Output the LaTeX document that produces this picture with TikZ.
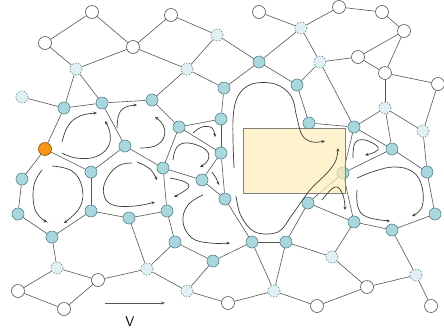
\documentclass[tikz,border=0pt]{standalone}
\usetikzlibrary{arrows.meta}
\definecolor{tealf}{RGB}{168,215,221}
\definecolor{tealb}{RGB}{90,130,140}
\definecolor{dashf}{RGB}{225,240,242}
\definecolor{edgec}{RGB}{85,85,85}
\definecolor{orangef}{RGB}{245,150,25}
\definecolor{rectf}{RGB}{255,238,185}
\definecolor{flowc}{RGB}{60,60,60}
\begin{document}
\begin{tikzpicture}[x=1pt,y=-1pt,
  tn/.style={circle,minimum size=12pt,inner sep=0pt,fill=tealf,draw=tealb,line width=0.6pt},
  wn/.style={circle,minimum size=13pt,inner sep=0pt,fill=white,draw=edgec,line width=0.6pt},
  dn/.style={circle,minimum size=12pt,inner sep=0pt,fill=dashf,draw=tealb,dashed,dash pattern=on 1.5pt off 1.5pt,line width=0.6pt},
  on/.style={circle,minimum size=13pt,inner sep=0pt,fill=orangef,draw=orange!60!black,line width=0.6pt},
  ed/.style={draw=edgec,line width=0.6pt},
  flow/.style={draw=flowc,line width=0.7pt,-{Stealth[length=3.5pt,width=3pt]}},
  rectbox/.style={draw=gray,line width=0.6pt,fill=rectf,fill opacity=0.7,minimum width=102pt,minimum height=65pt,inner sep=0pt}]
\useasboundingbox (0,0) rectangle (444,333);
% white nodes
\node[wn] (w1) at (92,12) {};
\node[wn] (w2) at (45,43) {};
\node[wn] (w3) at (133,47) {};
\node[wn] (w4) at (171,15) {};
\node[wn] (w5) at (259,12) {};
\node[wn] (w6) at (339,7) {};
\node[wn] (w7) at (382,12) {};
\node[wn] (w8) at (404,31) {};
\node[wn] (w9) at (358,57) {};
\node[wn] (w10) at (385,73) {};
\node[wn] (w11) at (438,84) {};
\node[wn] (w12) at (98,280) {};
\node[wn] (w13) at (18,291) {};
\node[wn] (w14) at (64,309) {};
\node[wn] (w15) at (228,303) {};
\node[wn] (w16) at (367,287) {};
\node[wn] (w17) at (317,306) {};
\node[wn] (w18) at (431,306) {};
% dashed nodes
\node[dn] (d1) at (76,69) {};
\node[dn] (d2) at (22,97) {};
\node[dn] (d3) at (217,35) {};
\node[dn] (d4) at (187,69) {};
\node[dn] (d5) at (301,28) {};
\node[dn] (d6) at (320,62) {};
\node[dn] (d7) at (385,108) {};
\node[dn] (d8) at (423,131) {};
\node[dn] (d9) at (57,268) {};
\node[dn] (d10) at (147,269) {};
\node[dn] (d11) at (187,291) {};
\node[dn] (d12) at (274,291) {};
\node[dn] (d13) at (332,257) {};
\node[dn] (d14) at (416,275) {};
% teal nodes
\node[tn] (t1) at (64,108) {};
\node[tn] (t2) at (102,103) {};
\node[tn] (t3) at (152,100) {};
\node[tn] (t4) at (224,88) {};
\node[tn] (t5) at (259,62) {};
\node[tn] (t6) at (297,85) {};
\node[tn] (t7) at (221,119) {};
\node[tn] (t8) at (179,127) {};
\node[tn] (t9) at (125,146) {};
\node[tn] (t10) at (221,153) {};
\node[tn] (t11) at (91,172) {};
\node[tn] (t12) at (163,168) {};
\node[tn] (t13) at (202,180) {};
\node[tn] (t14) at (22,179) {};
\node[tn] (t15) at (225,199) {};
\node[tn] (t16) at (18,214) {};
\node[tn] (t17) at (91,211) {};
\node[tn] (t18) at (167,211) {};
\node[tn] (t19) at (129,218) {};
\node[tn] (t20) at (52,237) {};
\node[tn] (t21) at (175,242) {};
\node[tn] (t22) at (213,261) {};
\node[tn] (t23) at (252,242) {};
\node[tn] (t24) at (286,242) {};
\node[tn] (t25) at (309,123) {};
\node[tn] (t26) at (354,127) {};
\node[tn] (t27) at (392,149) {};
\node[tn] (t28) at (343,173) {};
\node[tn] (t29) at (427,172) {};
\node[tn] (t30) at (308,203) {};
\node[tn] (t31) at (435,214) {};
\node[tn] (t32) at (354,222) {};
\node[tn] (t33) at (392,230) {};
\node[on] (o1) at (45,149) {};
% edges
\foreach \a/\b in {w1/w2,w1/w3,w2/d1,w3/d1,w3/w4,w3/d4,w4/d3,d3/d4,d3/t5,w5/d5,t5/d5,w6/d5,w6/w7,w7/w8,d5/d6,d6/w9,w9/w8,w9/w10,w8/w10,w10/w11,w10/d7,d6/t6,t5/t6,t5/t4,d4/t4,d4/t3,d1/t1,d1/t2,d2/t1,t1/t2,t2/t3,t1/o1,t2/t9,t3/t8,t4/t7,t7/t8,t8/t10,t8/t12,t7/t10,t10/t13,t10/t15,t12/t13,t13/t15,t12/t18,t12/t9,t9/t11,o1/t11,o1/t14,t14/t16,t16/t20,t20/t17,t11/t17,t17/t19,t19/t18,t19/d10,t20/d9,d9/w13,w13/w14,w14/w12,w12/d9,w12/d10,d10/d11,d10/t21,t21/t18,t21/t22,t22/d11,d11/w15,w15/d12,d12/t23,d12/t24,d12/w17,t22/t23,t23/t24,t23/t15,t24/t30,t24/d13,d13/t32,d13/w16,w16/w17,w16/d14,d14/w18,d14/t33,t32/t33,t33/t31,t31/t29,t29/d8,d8/w11,d8/d7,t27/d7,t27/t28,t27/t29,d7/t26,t26/d6,t26/t25,t25/t6,t28/t30,t28/t26,t28/t32,t30/t32,t26/t27}
  \draw[ed] (\a) -- (\b);
% rectangle
\node[rectbox] (r) at (294,160.5) {};
% flow arrows
\draw[flow] plot[smooth,tension=0.7] coordinates {(62,142) (68,126) (80,116) (97,113)};
\draw[flow] plot[smooth,tension=0.7] coordinates {(62,153) (76,158) (95,157) (108,147) (110,133) (105,121)};
\draw[flow] plot[smooth,tension=0.7] coordinates {(117,128) (119,114) (126,107) (137,105)};
\draw[flow] plot[smooth,tension=0.7] coordinates {(140,148) (155,146) (164,137) (163,125) (155,117)};
\draw[flow] plot[smooth,tension=0.7] coordinates {(42,170) (34,185) (34,206) (40,217) (47,222)};
\draw[flow] plot[smooth,tension=0.7] coordinates {(52,166) (72,171) (82,187) (80,207) (64,223)};
\draw[flow] plot[smooth,tension=0.7] coordinates {(137,162) (150,169) (157,180)};
\draw[flow] plot[smooth,tension=0.7] coordinates {(132,163) (118,166) (106,180) (104,195) (113,205) (135,206) (155,202)};
\draw[flow] plot[smooth,tension=0.7] coordinates {(193,133) (202,127) (212,128) (215,137)};
\draw[flow] plot[smooth,tension=0.7] coordinates {(173,160) (177,147) (189,143) (206,150) (208,160) (200,167)};
\draw[flow] plot[smooth,tension=0.7] coordinates {(212,172) (216,178) (219,185)};
\draw[flow] plot[smooth,tension=0.7] coordinates {(170,178) (185,182) (188,188) (174,197)};
\draw[flow] plot[smooth,tension=0.7] coordinates {(203,195) (188,205) (183,222) (192,238) (210,243) (230,243)};
\draw[flow] plot[smooth,tension=0.6] coordinates {(234,168) (233,120) (238,96) (252,84) (275,84) (291,96) (297,118) (302,135) (312,142) (325,141)};
\draw[flow] plot[smooth,tension=0.6] coordinates {(236,196) (241,216) (255,232) (278,232) (292,215) (310,190) (328,172) (336,160) (338,148)};
\draw[flow] plot[smooth,tension=0.7] coordinates {(322,200) (335,187) (343,195) (345,210)};
\draw[flow] plot[smooth,tension=0.7] coordinates {(353,158) (355,143) (365,140) (378,147) (375,152) (365,155)};
\draw[flow] plot[smooth,tension=0.7] coordinates {(357,178) (375,171) (395,167) (413,172) (422,187) (422,207) (412,216)};
\draw[flow] plot[smooth,tension=0.7] coordinates {(357,190) (358,207) (367,217) (390,221)};
% velocity arrow
\coordinate (va) at (105,303);
\coordinate (vb) at (165,303);
\draw[draw=edgec,line width=0.7pt,-{Stealth[length=4pt,width=3pt]}] (va) -- (vb);
\node[font=\sffamily\fontsize{14}{14}\selectfont] (vl) at (130,322) {V};
\end{tikzpicture}
\end{document}
